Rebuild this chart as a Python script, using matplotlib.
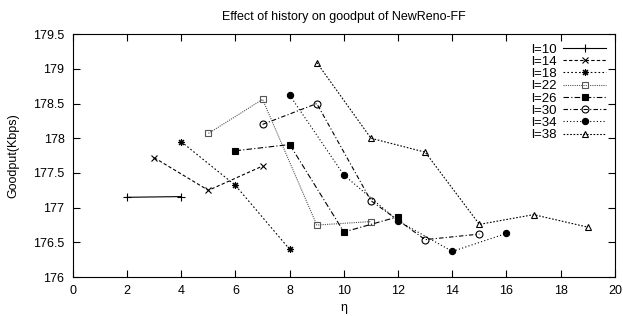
import matplotlib
matplotlib.use("Agg")
import matplotlib.pyplot as plt
from matplotlib.ticker import FormatStrFormatter, MultipleLocator

plt.rcParams['font.family'] = ['Liberation Sans', 'DejaVu Sans']

# history length series: eta values and goodput (Kbps)
labels = ["l=10", "l=14", "l=18", "l=22", "l=26", "l=30", "l=34", "l=38"]
eta = [
    [2, 4],
    [3, 5, 7],
    [4, 6, 8],
    [5, 7, 9, 11],
    [6, 8, 10, 12],
    [7, 9, 11, 13, 15],
    [8, 10, 12, 14, 16],
    [9, 11, 13, 15, 17, 19],
]
goodput = [
    [177.15, 177.16],
    [177.72, 177.25, 177.60],
    [177.95, 177.32, 176.40],
    [178.07, 178.56, 176.75, 176.80],
    [177.82, 177.91, 176.65, 176.87],
    [178.20, 178.50, 177.10, 176.54, 176.62],
    [178.62, 177.47, 176.81, 176.37, 176.63],
    [179.09, 178.00, 177.80, 176.76, 176.90, 176.72],
]

styles = [
    dict(ls="-", marker="+", mfc="black", ms=6, color="black"),
    dict(ls=(0, (3, 2)), marker="x", mfc="none", ms=5, color="black"),
    dict(ls=(0, (1.5, 2)), marker=(8, 2, 0), mfc="black", ms=5, color="black"),
    dict(ls=(0, (1, 1)), marker="s", mfc="none", ms=5, color="#555555"),
    dict(ls=(0, (5, 2, 1, 2)), marker="s", mfc="black", ms=5, color="black"),
    dict(ls=(0, (4, 2, 1, 2)), marker="o", mfc="none", ms=5, color="black"),
    dict(ls=(0, (1, 2)), marker="o", mfc="black", ms=4.5, color="black"),
    dict(ls=(0, (1.5, 1.5)), marker="^", mfc="none", ms=5, color="black"),
]

fig = plt.figure(figsize=(6.23, 3.16), dpi=100)
ax = fig.add_axes([0.117, 0.123, 0.870, 0.769])

for x, y, lab, st in zip(eta, goodput, labels, styles):
    ax.plot(x, y, label=lab, lw=0.8, mew=0.8, mec=st["color"], **st)

ax.set_xlim(0, 20)
ax.set_ylim(176, 179.5)
ax.xaxis.set_major_locator(MultipleLocator(2))
ax.yaxis.set_major_locator(MultipleLocator(0.5))
ax.yaxis.set_major_formatter(FormatStrFormatter('%g'))
ax.tick_params(direction="in", top=True, right=True, labelsize=9, length=5, width=0.8, pad=6)
for s in ax.spines.values():
    s.set_linewidth(0.8)

ax.set_xlabel("η", fontsize=9, labelpad=3)
ax.set_ylabel("Goodput(Kbps)", fontsize=9, labelpad=10)
ax.set_title("Effect of history on goodput of NewReno-FF", fontsize=9, pad=10)

ax.legend(loc="upper right", frameon=False, fontsize=9.5, markerfirst=False,
          handlelength=3.2, labelspacing=0.0, borderaxespad=0.3, handletextpad=0.5)

fig.savefig("out.png", dpi=100)
